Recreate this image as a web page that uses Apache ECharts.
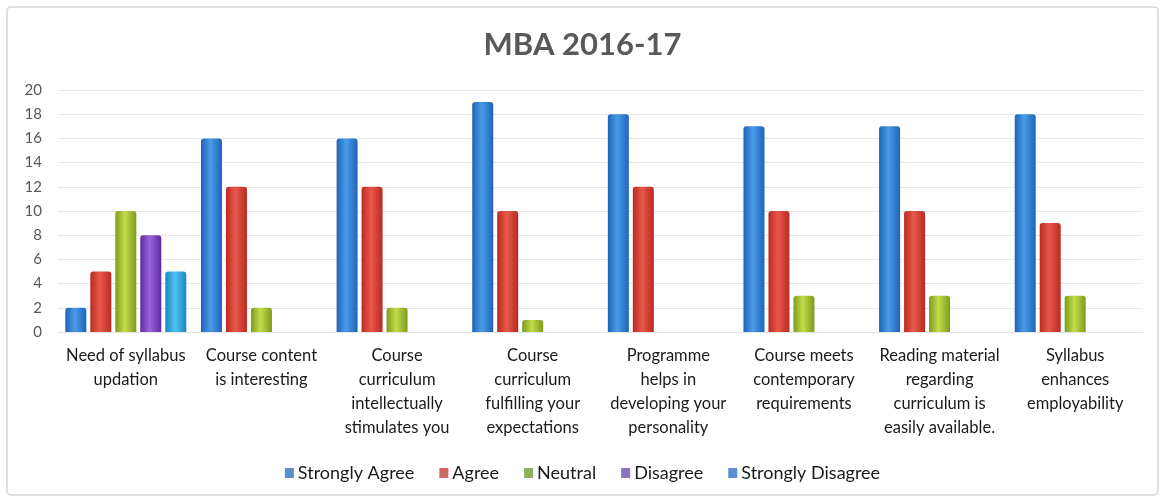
<!DOCTYPE html>
<html>
<head>
<meta charset="utf-8">
<script src="https://cdn.jsdelivr.net/npm/echarts@6/dist/echarts.min.js"></script>
<style>
html, body { margin: 0; padding: 0; background: #fff; }
#main { width: 1165px; height: 502px; }
</style>
</head>
<body>
<div id="main"></div>
<script>
var categories = [
  'Need of syllabus\nupdation',
  'Course content\nis interesting',
  'Course\ncurriculum\nintellectually\nstimulates you',
  'Course\ncurriculum\nfulfilling your\nexpectations',
  'Programme\nhelps in\ndeveloping your\npersonality',
  'Course meets\ncontemporary\nrequirements',
  'Reading material\nregarding\ncurriculum is\neasily available.',
  'Syllabus\nenhances\nemployability'
]
var seriesNames = ['Strongly Agree', 'Agree', 'Neutral', 'Disagree', 'Strongly Disagree']
var stronglyAgree = [2, 16, 16, 19, 18, 17, 17, 18]
var agree = [5, 12, 12, 10, 12, 10, 10, 9]
var neutral = [10, 2, 2, 1, 0, 3, 3, 3]
var disagree = [8, 0, 0, 0, 0, 0, 0, 0]
var stronglyDisagree = [5, 0, 0, 0, 0, 0, 0, 0]
var yTicks = [0, 2, 4, 6, 8, 10, 12, 14, 16, 18, 20]

// bar shading: dark edge, light middle, dark edge
var barDark = ['#1f63b8', '#b92a22', '#7f9a1f', '#5e2c9c', '#1787c2']
var barLight = ['#4a9be8', '#e8584a', '#c2dc48', '#9b62dc', '#4fc3f0']
var legendColors = ['#5b8fd0', '#cd6a66', '#8fb05d', '#8a74bf', '#5c90d0']

function shade (dark, light) {
  return new echarts.graphic.LinearGradient(0, 0, 1, 0, [
    { offset: 0, color: dark },
    { offset: 0.45, color: light },
    { offset: 1, color: dark }
  ])
}

var allData = [stronglyAgree, agree, neutral, disagree, stronglyDisagree]
var series = []
for (var i = 0; i < seriesNames.length; i++) {
  series.push({
    name: seriesNames[i],
    type: 'bar',
    data: allData[i].map(function (v) { return v === 0 ? null : v }),
    barWidth: 21,
    barGap: '19%',
    itemStyle: { color: shade(barDark[i], barLight[i]), borderRadius: [3, 3, 0, 0] }
  })
}

var chart = echarts.init(document.getElementById('main'))
chart.setOption({
  backgroundColor: '#fff',
  textStyle: { fontFamily: 'Lato' },
  graphic: [{
    type: 'rect',
    shape: { x: 7, y: 7, width: 1151, height: 488, r: 4 },
    style: { fill: 'none', stroke: '#d6d6d6', lineWidth: 1.5 },
    z: -1
  }],
  title: {
    text: 'MBA 2016-17',
    left: 'center',
    top: 24,
    textStyle: { fontFamily: 'Lato', fontSize: 31, fontWeight: 'bold', color: '#595959' }
  },
  legend: {
    bottom: 15,
    left: 'center',
    itemWidth: 9,
    itemHeight: 10,
    itemGap: 25,
    icon: 'rect',
    textStyle: { fontFamily: 'Lato', fontSize: 18, color: '#1a1a1a', padding: [0, 0, 0, -1] },
    data: seriesNames.map(function (n, i) {
      return { name: n, itemStyle: { color: legendColors[i] } }
    })
  },
  grid: { left: 58, right: 22, top: 90, bottom: 170, containLabel: false },
  xAxis: {
    type: 'category',
    data: categories,
    axisTick: { show: false },
    axisLine: { lineStyle: { color: '#e3e3e3' } },
    axisLabel: {
      interval: 0,
      margin: 12,
      fontFamily: 'Lato',
      fontSize: 16.5,
      lineHeight: 24,
      color: '#1a1a1a',
      verticalAlign: 'top'
    }
  },
  yAxis: {
    type: 'value',
    min: yTicks[0],
    max: yTicks[yTicks.length - 1],
    interval: 2,
    axisLine: { show: false },
    axisTick: { show: false },
    splitLine: { lineStyle: { color: '#e6e6e6' } },
    axisLabel: { fontFamily: 'Lato', fontSize: 15, color: '#595959', margin: 16 }
  },
  series: series
})
</script>
</body>
</html>
